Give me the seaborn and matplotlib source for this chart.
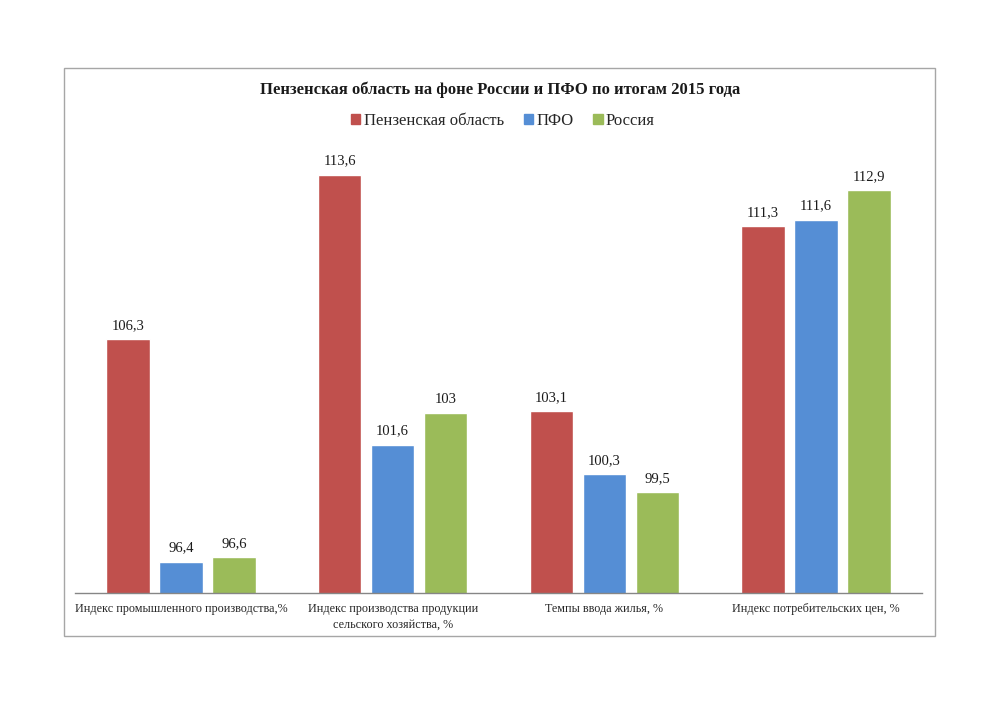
import matplotlib
matplotlib.use("Agg")
import matplotlib.pyplot as plt
import seaborn as sns
import pandas as pd
from matplotlib.patches import Rectangle

categories = [
    "Индекс промышленного производства,%",
    "Индекс производства продукции\nсельского хозяйства, %",
    "Темпы ввода жилья, %",
    "Индекс потребительских цен, %",
]
series_names = ["Пензенская область", "ПФО", "Россия"]
penza = [106.3, 113.6, 103.1, 111.3]
pfo = [96.4, 101.6, 100.3, 111.6]
russia = [96.6, 103.0, 99.5, 112.9]
colors = ["#C0504D", "#558ED5", "#9BBB59"]
title = "Пензенская область на фоне России и ПФО по итогам 2015 года"

rows = []
for name, vals in zip(series_names, [penza, pfo, russia]):
    for c, v in zip(categories, vals):
        rows.append({"cat": c, "series": name, "value": v})
df = pd.DataFrame(rows)

sns.set_theme(style="white")
plt.rcParams["font.family"] = ["Liberation Serif", "DejaVu Serif"]

fig = plt.figure(figsize=(10, 7.07), dpi=100)
ax = fig.add_axes([0.075, 0.1612, 0.847, 0.6365])

sns.barplot(data=df, x="cat", y="value", hue="series", order=categories,
            hue_order=series_names, palette=colors, width=0.75, gap=0.18,
            saturation=1, legend=False, ax=ax, errorbar=None)

ax.set_ylim(95, 115)
ax.set_xlim(-0.5, 3.5)
ax.set_xlabel("")
ax.set_ylabel("")
ax.set_yticks([])
for s in ["top", "left", "right"]:
    ax.spines[s].set_visible(False)
ax.spines["bottom"].set_color("#868686")
ax.spines["bottom"].set_linewidth(1.0)
ax.tick_params(axis="x", length=0, pad=7, labelsize=8.7)
for t in ax.get_xticklabels():
    t.set_fontfamily(["Liberation Serif", "DejaVu Serif"])
    t.set_linespacing(1.45)

def fmt(v):
    s = f"{v:.1f}".replace(".", ",")
    if s.endswith(",0"):
        s = s[:-2]
    return s

for cont in ax.containers:
    labels = [fmt(b.get_height()) for b in cont]
    ax.bar_label(cont, labels=labels, padding=5, fontsize=10.5, color="#1a1a1a")

fig.text(0.5, 0.8727, title, ha="center", va="center", fontsize=12,
         fontweight="bold", color="#1a1a1a")

handles = [Rectangle((0, 0), 1, 1, color=c) for c in colors]
fig.legend(handles, series_names, loc="center", bbox_to_anchor=(0.503, 0.8290),
           ncol=3, frameon=False, fontsize=12, handlelength=0.55,
           handleheight=0.55, handletextpad=0.2, columnspacing=1.2)

fig.patches.append(Rectangle((0.064, 0.1004), 0.871, 0.8034, transform=fig.transFigure,
                             fill=False, edgecolor="#a6a6a6", linewidth=1.0))

fig.savefig("out.png", dpi=100, facecolor="white")
